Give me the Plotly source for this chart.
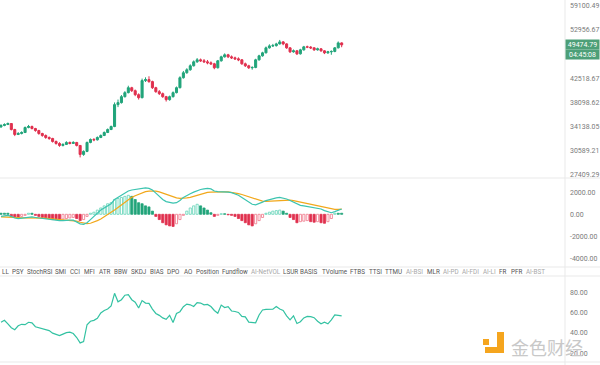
import math
import plotly.graph_objects as go
from plotly.subplots import make_subplots

# ---------------- data ----------------
idx = list(range(100))

open_ = [34100,34306,34461,34619,33690,32937,33088,33238,33997,34151,
         33844,33539,33088,32789,32494,32348,31912,31625,31340,31482,
         31768,31625,31768,31340,30090,30502,31768,32202,32150,32494,
         32789,33238,33690,34151,37721,38066,39110,39827,40735,40188,
         39465,38934,42068,42258,41879,40735,40007,39648,39110,38585,
         39110,39827,40735,42620,43594,44189,44995,45815,46231,46023,
         45815,45609,45403,44590,46023,46862,47292,46862,46651,46440,
         46231,45403,44995,44590,44650,46231,47074,47721,48810,49252,
         49300,49698,50150,49698,48810,47937,48154,47506,48371,49030,
         48980,48810,48371,48590,48154,47721,47937,48020,48810,49922]

high = [34520,34650,34780,34700,33800,33300,33420,34150,34400,34300,
        33950,33650,33200,32950,32650,32450,32050,31800,31650,31950,
        31900,31950,31850,31400,30650,31900,32350,32400,32650,32950,
        33400,33850,34300,38100,38600,39400,40100,41100,40900,40400,
        39700,42450,42700,42900,42050,40900,40300,39850,39250,39300,
        40050,40950,42900,43950,44500,45300,46100,46600,46500,46400,
        46200,45900,45600,46200,47100,47600,47500,47150,46900,46750,
        46400,45650,45200,44900,46450,47300,47950,49100,49600,49700,
        49950,50600,50350,49850,48950,48450,48350,48600,49250,49300,
        49200,48950,48850,48750,48300,48150,48250,49000,50250,50050]

low = [33950,34200,34380,33550,32700,32850,32950,33150,33880,33700,
       33350,32900,32600,32300,32150,31750,31450,31150,31200,31400,
       31500,31550,31200,29685,29900,30400,31650,31950,32050,32400,
       32700,33150,33600,34050,37300,37900,38950,39700,39950,39200,
       38600,38800,41800,41650,40500,39800,39400,38900,38250,38400,
       38950,39700,40600,42450,43400,44000,44850,45600,45800,45600,
       45300,45150,44300,44450,45850,46700,46600,46400,46200,45950,
       45200,44750,44350,44200,44500,46050,46900,47600,48650,49000,
       49100,49550,49400,48600,47700,47750,47250,47350,48200,48750,
       48550,48150,48200,47950,47450,47500,47300,47850,48700,48950]

close = [34306,34461,34619,33690,32937,33088,33238,33997,34151,33844,
         33539,33088,32789,32494,32348,31912,31625,31340,31482,31768,
         31625,31768,31340,30090,30502,31768,32202,32150,32494,32789,
         33238,33690,34151,37721,38066,39110,39827,40735,40188,39465,
         38934,42068,42258,41879,40735,40007,39648,39110,38585,39110,
         39827,40735,42620,43594,44189,44995,45815,46231,46023,45815,
         45609,45403,44590,46023,46862,47292,46862,46651,46440,46231,
         45403,44995,44590,44650,46231,47074,47721,48810,49252,49300,
         49698,50150,49698,48810,47937,48154,47506,48371,49030,48980,
         48810,48371,48590,48154,47721,47937,48020,48810,49922,49474.79]

dif = [-190,-143,-95,-190,-333,-381,-333,-286,-238,-238,
       -286,-333,-381,-428,-476,-524,-571,-571,-571,-524,
       -524,-524,-666,-857,-904,-762,-476,-190,95,381,
       571,762,952,1333,1523,1714,1904,2094,2190,2237,
       2285,2380,2380,2332,2190,1904,1618,1333,1142,1047,
       1000,1047,1238,1523,1714,1856,1999,2142,2237,2285,
       2332,2285,2094,2047,2047,2047,1999,1952,1856,1714,
       1523,1333,1095,904,857,952,1095,1238,1333,1428,
       1475,1523,1475,1380,1238,1095,904,809,762,714,
       666,571,524,476,333,238,143,238,381,476]

dea = [-238,-238,-238,-238,-286,-305,-314,-314,-305,-305,
       -305,-314,-333,-352,-381,-409,-438,-476,-505,-524,
       -552,-571,-619,-714,-809,-838,-809,-714,-571,-428,
       -238,-48,143,381,619,857,1095,1333,1523,1666,
       1809,1952,2047,2094,2113,2094,2018,1904,1790,1666,
       1571,1476,1428,1428,1476,1523,1618,1714,1809,1904,
       1971,1999,2018,2028,2028,2028,2018,1980,1923,1856,
       1780,1685,1571,1447,1333,1238,1190,1171,1190,1219,
       1257,1285,1314,1314,1285,1238,1171,1095,1019,952,
       885,809,743,666,600,543,476,447,447,457]

hist = [95,95,95,-190,-285,-285,-190,-95,95,95,
        -95,-190,-285,-380,-380,-475,-475,-475,-428,-380,
        -333,-285,-380,-570,-475,-190,95,190,380,570,
        760,950,1045,1330,1425,1520,1615,1710,1615,1330,
        1045,950,760,665,285,-190,-475,-760,-950,-1045,
        -1093,-855,-475,-95,285,570,760,903,760,570,
        380,143,-190,-95,48,48,-48,-95,-190,-380,
        -570,-760,-950,-1045,-855,-570,-285,95,190,285,
        333,380,285,95,-285,-475,-760,-665,-618,-570,
        -665,-713,-665,-760,-808,-665,-380,95,95,95]

rsi = [50.5,52.4,49.0,45.2,43.2,47.1,48.5,48.1,50.5,50.0,
       46.1,45.2,43.9,43.7,42.3,39.8,38.4,37.4,38.9,40.3,
       40.8,39.4,35.5,30.2,31.5,48.1,51.5,52.4,54.4,59.7,
       62.1,63.5,66.5,79.0,70.6,72.7,77.1,77.6,72.7,70.3,
       64.5,71.8,69.4,69.1,63.5,59.2,57.3,54.8,53.4,57.3,
       50.3,59.2,60.9,65.8,68.4,67.7,66.0,69.8,69.4,67.6,
       68.1,66.0,62.1,59.4,67.4,65.0,65.8,61.6,61.1,60.2,
       56.3,55.8,50.7,50.7,50.0,57.7,62.6,63.1,63.1,63.3,
       66.0,63.5,62.1,56.8,52.9,56.8,49.3,51.0,54.8,56.3,
       56.1,55.0,51.5,49.0,50.5,49.0,52.9,57.7,57.3,56.8]

price_ticks = [59100.49, 52956.67, 42518.67, 38098.62, 34138.05, 30589.21, 27409.29]
macd_ticks = [2000, 0, -2000, -4000]
rsi_ticks = [80, 60, 40, 20]
last_price = 49474.79
countdown = "04:45:08"

tabs = ["LL", "PSY", "StochRSI", "SMI", "CCI", "MFI", "ATR", "BBW", "SKDJ", "BIAS",
        "DPO", "AO", "Position", "Fundflow", "AI-NetVOL", "LSUR", "BASIS", "TVolume",
        "FTBS", "TTSI", "TTMU", "AI-BSI", "MLR", "AI-PD", "AI-FDI", "AI-LI", "FR",
        "PFR", "AI-BST"]
watermark = "金色财经"

# ---------------- layout constants ----------------
W, H, PW = 600, 365, 565
tab_left_px = [0, 10, 25, 53, 68, 82, 97, 112, 129, 148, 165, 182, 194, 220, 249,
               281, 298, 320, 348, 367, 383, 404, 425, 441, 460, 481, 497, 509, 524]

GREEN = "#21a47a"
RED = "#e0304e"
TEAL = "#3cc4b0"
ORANGE = "#f2a81b"
GRID = "#e9e9e9"
LBL = "#7a7a7a"


def py(px):
    return (H - px) / H


def pxx(px):
    return px / PW


fig = make_subplots(rows=3, cols=1, shared_xaxes=True, vertical_spacing=0)

fig.add_trace(go.Candlestick(
    x=idx, open=open_, high=high, low=low, close=close,
    increasing=dict(line=dict(color=GREEN, width=1), fillcolor=GREEN),
    decreasing=dict(line=dict(color=RED, width=1), fillcolor=RED),
    whiskerwidth=0, hoverinfo="skip"), row=1, col=1)

# histogram colouring: hollow when value rises vs previous bar
fills, lines = [], []
prev = None
for v in hist:
    base = GREEN if v >= 0 else RED
    light = "#5fd3b6" if v >= 0 else "#ef7486"
    rising = prev is not None and v > prev
    fills.append("white" if rising else base)
    lines.append(light if rising else base)
    prev = v

fig.add_trace(go.Bar(x=idx, y=hist, width=0.62,
                     marker=dict(color=fills, line=dict(color=lines, width=0.8)),
                     hoverinfo="skip"), row=2, col=1)
fig.add_trace(go.Scatter(x=idx, y=dea, mode="lines", line=dict(color=ORANGE, width=1.2),
                         hoverinfo="skip"), row=2, col=1)
fig.add_trace(go.Scatter(x=idx, y=dif, mode="lines", line=dict(color=TEAL, width=1.2),
                         hoverinfo="skip"), row=2, col=1)
fig.add_trace(go.Scatter(x=idx, y=rsi, mode="lines", line=dict(color="#33c2a2", width=1.2),
                         hoverinfo="skip"), row=3, col=1)

xr = [-0.29, 163.9]
for i in (1, 2, 3):
    fig.update_xaxes(range=xr, showticklabels=False, showgrid=False, zeroline=False,
                     showline=False, ticks="", rangeslider=dict(visible=False), row=i, col=1)

common_y = dict(side="right", showgrid=False, zeroline=False, showline=False, ticks="",
                ticklabelstandoff=4, tickfont=dict(size=7, color=LBL, family="Roboto"))

fig.update_layout(
    width=W, height=H, margin=dict(l=0, r=W - PW, t=0, b=0),
    paper_bgcolor="white", plot_bgcolor="white", showlegend=False,
    hovermode=False, bargap=0.3, boxgap=0.15,
    font=dict(family="Roboto", size=7, color=LBL),
    yaxis=dict(domain=[py(178), 1], type="log", range=[4.43193, 4.78287],
               tickvals=price_ticks, ticktext=[f"{v:.2f}" for v in price_ticks], **common_y),
    yaxis2=dict(domain=[py(267), py(178)], range=[-4748, 3270],
                tickvals=macd_ticks, ticktext=[f"{v:.2f}" for v in macd_ticks], **common_y),
    yaxis3=dict(domain=[py(362), py(276)], range=[11.45, 96.0],
                tickvals=rsi_ticks, ticktext=[f"{v:.2f}" for v in rsi_ticks], **common_y),
)

shapes = []
for ypx in (178, 267, 276, 362):
    shapes.append(dict(type="line", xref="paper", yref="paper", x0=0, x1=W / PW,
                       y0=py(ypx), y1=py(ypx), line=dict(color=GRID, width=1)))
shapes.append(dict(type="line", xref="paper", yref="paper", x0=1, x1=1, y0=0, y1=1,
                   line=dict(color=GRID, width=1)))
ly = math.log10(last_price)
shapes.append(dict(type="line", xref="paper", yref="y", x0=0, x1=1, y0=ly, y1=ly,
                   line=dict(color="#4f9a78", width=1, dash="3px,2px")))
# watermark icon
ORG = "#f5a51e"
for (x0, y0, x1, y1) in [(483, 339, 489, 345), (497, 332, 504, 353), (485, 347, 504, 353)]:
    shapes.append(dict(type="rect", xref="paper", yref="paper", x0=pxx(x0), x1=pxx(x1),
                       y0=py(y1), y1=py(y0), fillcolor=ORG, line=dict(width=0), layer="above"))

annotations = []
annotations.append(dict(xref="paper", yref="y", x=1.0, y=ly, xanchor="left", yanchor="middle",
                        text=f"{last_price:.2f}", showarrow=False, bgcolor="#4d9f78",
                        width=33, height=9, borderpad=0,
                        font=dict(size=7, color="white", family="Roboto")))
annotations.append(dict(xref="paper", yref="y", x=1.0, y=ly, yshift=-10, xanchor="left",
                        yanchor="middle", text=countdown, showarrow=False, bgcolor="#4d9f78",
                        width=33, height=9, borderpad=0,
                        font=dict(size=7, color="white", family="Roboto")))
for name, xl in zip(tabs, tab_left_px):
    col = "#a8a8a8" if name.startswith("AI-") else "#555555"
    annotations.append(dict(xref="paper", yref="paper", x=pxx(xl), y=py(271.5),
                            xanchor="left", yanchor="middle", text=name, showarrow=False,
                            font=dict(size=6.3, color=col, family="Roboto")))
annotations.append(dict(xref="paper", yref="paper", x=pxx(509), y=py(347), xanchor="left",
                        yanchor="middle", text=watermark, showarrow=False,
                        font=dict(size=18, color="#c8c8c8", family="Noto Sans CJK SC")))

fig.update_layout(shapes=shapes, annotations=annotations)

fig.write_html("out.html", config={"displayModeBar": False},
               post_script="document.body.style.margin='0';")
